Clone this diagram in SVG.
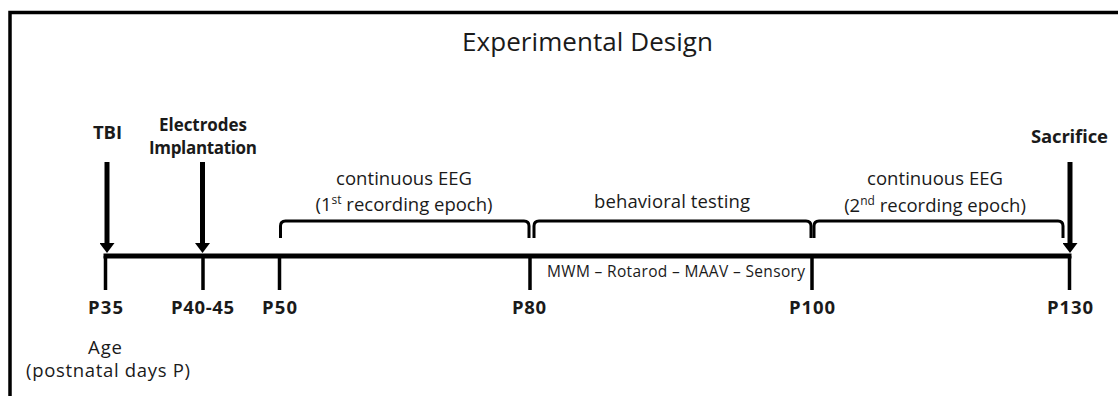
<svg xmlns="http://www.w3.org/2000/svg" width="1118" height="396" viewBox="0 0 1118 396">
<style>
text{font-family:"Open Sans","Noto Sans","Liberation Sans",sans-serif;fill:#1a1a1a;text-anchor:middle}
.b{font-weight:bold;font-size:18.5px}
.bs{font-weight:bold;font-size:17px}
.r{font-size:18.5px}
.s{font-size:15.5px}
.t{font-size:26px}
.sup{font-size:12px}
.axis{stroke:#000;stroke-width:5;fill:none}
.tick{stroke:#000;stroke-width:3.5;fill:none}
.arr{stroke:#000;stroke-width:5;fill:none}
.br{stroke:#000;stroke-width:3;fill:none;stroke-linejoin:round}
.frame{stroke:#000;stroke-width:3.5;fill:none}
</style>
<defs>
<marker id="ah" viewBox="0 0 10 15" refX="0" refY="7.5" markerWidth="10" markerHeight="15" markerUnits="userSpaceOnUse" orient="auto">
<path d="M0,0 L10,7.5 L0,15 z" fill="#000"/>
</marker>
</defs>
<rect width="1118" height="396" fill="#fff"/>
<path class="frame" d="M10,396 V12.5 H1118"/>
<text id="title" class="t" x="587.5" y="51" textLength="251">Experimental Design</text>

<g id="connectors">
<line class="axis" x1="103.5" y1="256" x2="1071.5" y2="256"/>
<line class="tick" x1="105.5" y1="256" x2="105.5" y2="290"/>
<line class="tick" x1="203" y1="256" x2="203" y2="290"/>
<line class="tick" x1="279.5" y1="256" x2="279.5" y2="290"/>
<line class="tick" x1="530" y1="256" x2="530" y2="290"/>
<line class="tick" x1="812" y1="256" x2="812" y2="290"/>
<line class="tick" x1="1069.5" y1="256" x2="1069.5" y2="290"/>
<line class="arr" x1="107" y1="162" x2="107" y2="243" marker-end="url(#ah)"/>
<line class="arr" x1="202.5" y1="162" x2="202.5" y2="243" marker-end="url(#ah)"/>
<line class="arr" x1="1070" y1="162" x2="1070" y2="243" marker-end="url(#ah)"/>
</g>

<g id="tbi">
<text class="b" x="107.5" y="139" textLength="29">TBI</text>
</g>
<g id="electrodes">
<text class="bs" x="203" y="131" textLength="88">Electrodes</text>
<text class="bs" x="203" y="154" textLength="108">Implantation</text>
</g>
<g id="sacrifice">
<text class="b" x="1069.5" y="143" textLength="77">Sacrifice</text>
</g>

<g id="eeg1">
<path class="br" d="M280.5,238 V226 Q280.5,221 285.5,221 H524 Q529,221 529,226 V238"/>
<text class="r" x="404" y="185" textLength="136">continuous EEG</text>
<text class="r" x="404" y="211">(1<tspan class="sup" dy="-7">st</tspan><tspan dy="7"> recording epoch)</tspan></text>
</g>
<g id="behavior">
<path class="br" d="M534,238 V226 Q534,221 539,221 H806 Q811,221 811,226 V238"/>
<text class="r" x="672" y="208" textLength="156">behavioral testing</text>
<text class="s" x="676" y="277" textLength="258">MWM – Rotarod – MAAV – Sensory</text>
</g>
<g id="eeg2">
<path class="br" d="M814,238 V226 Q814,221 819,221 H1058 Q1063,221 1063,226 V238"/>
<text class="r" x="935" y="185" textLength="136">continuous EEG</text>
<text class="r" x="935" y="212">(2<tspan class="sup" dy="-7">nd</tspan><tspan dy="7"> recording epoch)</tspan></text>
</g>

<g id="labels">
<text class="b" x="105.5" y="314" textLength="35">P35</text>
<text class="b" x="202.5" y="314" textLength="63">P40-45</text>
<text class="b" x="279.5" y="314" textLength="35">P50</text>
<text class="b" x="529" y="314" textLength="34">P80</text>
<text class="b" x="812" y="314" textLength="46">P100</text>
<text class="b" x="1070" y="314" textLength="46">P130</text>
<text class="r" x="105" y="354" textLength="34">Age</text>
<text class="r" x="108" y="377" textLength="164">(postnatal days P)</text>
</g>
</svg>
